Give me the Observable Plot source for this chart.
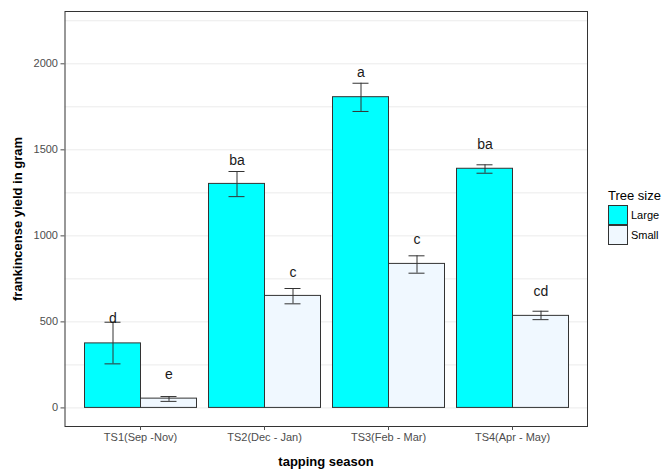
<!DOCTYPE html>
<html>
<head>
<meta charset="utf-8">
<script src="https://cdn.jsdelivr.net/npm/d3@7"></script>
<script src="https://cdn.jsdelivr.net/npm/@observablehq/plot@0.6"></script>
<style>
  html, body { margin: 0; padding: 0; background: #fff; }
  #wrap { position: relative; width: 662px; height: 469px; font-family: "Liberation Sans", Arial, sans-serif; }
  #wrap svg { position: absolute; left: 0; top: 0; }
  .ytitle { position: absolute; left: 17px; top: 219px; transform: translate(-50%, -50%) rotate(-90deg); font-weight: bold; font-size: 13px; color: #000; white-space: nowrap; }
  .xtitle { position: absolute; left: 326px; top: 461px; transform: translate(-50%, -50%); font-weight: bold; font-size: 13px; color: #000; white-space: nowrap; }
  .legend { position: absolute; left: 608px; top: 188px; font-size: 11px; color: #000; }
  .legend .lt { font-size: 13px; margin-bottom: 2px; white-space: nowrap; }
  .legend .row { display: flex; align-items: center; height: 20px; }
  .legend .key { width: 18px; height: 18px; border: 1px solid #333; box-sizing: content-box; margin-right: 3px; }
</style>
</head>
<body>
<div id="wrap">
  <div class="ytitle">frankincense yield in gram</div>
  <div class="xtitle">tapping season</div>
  <div class="legend" id="legend"></div>
</div>
<script>
const seasons = ["TS1(Sep -Nov)", "TS2(Dec - Jan)", "TS3(Feb - Mar)", "TS4(Apr - May)"];
const sizes = ["Large", "Small"];
const largeMean = [375, 1302, 1806, 1390];
const largeLo   = [256, 1228, 1723, 1364];
const largeHi   = [498, 1374, 1887, 1413];
const largeLetter = ["d", "ba", "a", "ba"];
const largeLabelY = [519, 1438, 1948, 1529];
const smallMean = [54, 651, 837, 535];
const smallLo   = [38, 605, 783, 513];
const smallHi   = [66, 694, 884, 562];
const smallLetter = ["e", "c", "c", "cd"];
const smallLabelY = [192, 787, 977, 678];
const yTicks = [0, 500, 1000, 1500, 2000];
const yGrid = [0, 250, 500, 750, 1000, 1250, 1500, 1750, 2000, 2250];
const sizeColors = ["#00FFFF", "#F0F8FF"];

const data = [];
seasons.forEach((s, i) => {
  data.push({season: s, size: "Large", mean: largeMean[i], lo: largeLo[i], hi: largeHi[i], letter: largeLetter[i], ly: largeLabelY[i]});
  data.push({season: s, size: "Small", mean: smallMean[i], lo: smallLo[i], hi: smallHi[i], letter: smallLetter[i], ly: smallLabelY[i]});
});

const common = {
  width: 662,
  height: 469,
  marginLeft: 64.5,
  marginRight: 75,
  marginTop: 11,
  marginBottom: 43,
  style: {fontFamily: "'Liberation Sans', Arial, sans-serif", fontSize: "11px", color: "#4d4d4d", background: "transparent", overflow: "visible"}
};
const yDomain = [-108, 2304];

// Background layer: panel grid, border and y axis
const back = Plot.plot({
  ...common,
  x: {domain: seasons, axis: null},
  y: {domain: yDomain, ticks: yTicks, tickFormat: d3.format("d"), tickSize: 4, tickPadding: 3, label: null},
  marks: [
    Plot.ruleY(yGrid, {stroke: "#ebebeb", strokeWidth: 1}),
    Plot.frame({stroke: "#333", strokeWidth: 1})
  ]
});

// Foreground layer: dodged bars per season
const front = Plot.plot({
  ...common,
  fx: {domain: seasons, paddingInner: 0.1, paddingOuter: 0.15, align: 0.5, label: null, axis: "bottom", tickSize: 4, tickPadding: 3},
  x: {domain: sizes, padding: 0, axis: null},
  y: {domain: yDomain, axis: null},
  color: {domain: sizes, range: sizeColors},
  marks: [
    Plot.barY(data, {fx: "season", x: "size", y: "mean", fill: "size", stroke: "#333", strokeWidth: 1, inset: 0}),
    Plot.ruleX(data, {fx: "season", x: "size", y1: "lo", y2: "hi", stroke: "#333", strokeWidth: 1}),
    Plot.tickY(data, {fx: "season", x: "size", y: "lo", stroke: "#333", strokeWidth: 1, insetLeft: 20, insetRight: 20}),
    Plot.tickY(data, {fx: "season", x: "size", y: "hi", stroke: "#333", strokeWidth: 1, insetLeft: 20, insetRight: 20}),
    Plot.text(data, {fx: "season", x: "size", y: "ly", text: "letter", fill: "#1a1a1a", fontSize: 14})
  ]
});
const wrap = document.getElementById("wrap");
wrap.prepend(front);
wrap.prepend(back);

const lg = document.getElementById("legend");
lg.innerHTML = '<div class="lt">Tree size</div>' + sizes.map((s, i) =>
  `<div class="row"><div class="key" style="background:${sizeColors[i]}"></div><span>${s}</span></div>`).join("");
</script>
</body>
</html>
